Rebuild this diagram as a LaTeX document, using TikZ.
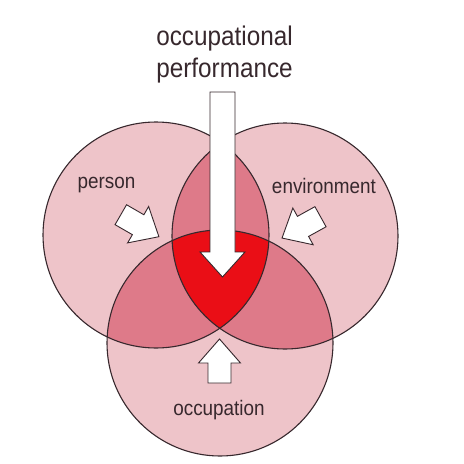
\documentclass[tikz,border=0pt]{standalone}
\usepackage{fontspec}
\setmainfont{Liberation Sans}[FakeStretch=0.9]

\definecolor{pinkone}{RGB}{238,196,201}
\definecolor{pinktwo}{RGB}{222,122,137}
\definecolor{pinkthree}{RGB}{234,14,22}
\definecolor{inkline}{RGB}{55,40,45}

\tikzset{
	venn/.style={draw=inkline, line width=1.1pt},
	arrowbox/.style={fill=white, draw=inkline, line width=0.9pt, line join=miter},
	label/.style={anchor=base, inner sep=0pt, text=inkline, font=\fontsize{21}{24}\selectfont},
	title/.style={anchor=base, inner sep=0pt, text=inkline, font=\fontsize{27}{30}\selectfont},
	inarrow/.pic={
		\path[arrowbox] (0,-11.5) -- (20,-11.5) -- (20,-21) -- (44,0) -- (20,21) -- (20,11.5) -- (0,11.5) -- cycle;
	}
}

\begin{document}
\begin{tikzpicture}[x=1pt, y=-1pt]
		
		\useasboundingbox (0,0) rectangle (464,464);
		
		%Circle centres
		\coordinate (Cperson) at (156,235);
		\coordinate (Cenvironment) at (285,236);
		\coordinate (Coccupation) at (220,343);
		
		%Single areas
		\fill[pinkone] (Cperson) circle[radius=113pt];
		\fill[pinkone] (Cenvironment) circle[radius=113pt];
		\fill[pinkone] (Coccupation) circle[radius=113pt];
		
		%Overlaps of two
		\begin{scope}
			\clip (Cperson) circle[radius=113pt];
			\fill[pinktwo] (Cenvironment) circle[radius=113pt];
			\fill[pinktwo] (Coccupation) circle[radius=113pt];
		\end{scope}
		\begin{scope}
			\clip (Cenvironment) circle[radius=113pt];
			\fill[pinktwo] (Coccupation) circle[radius=113pt];
		\end{scope}
		
		%Overlap of all three
		\begin{scope}
			\clip (Cperson) circle[radius=113pt];
			\clip (Cenvironment) circle[radius=113pt];
			\fill[pinkthree] (Coccupation) circle[radius=113pt];
		\end{scope}
		
		%Outlines
		\draw[venn] (Cperson) circle[radius=113pt];
		\draw[venn] (Cenvironment) circle[radius=113pt];
		\draw[venn] (Coccupation) circle[radius=113pt];
		
		%Labels
		\node[label] (person) at (106.5,188) {person};
		\node[label] (environment) at (324,193) {environment};
		\node[label] (occupation) at (219,415) {occupation};
		
		\node[title] (titleone) at (224.5,45) {occupational};
		\node[title] (titletwo) at (224.5,77) {performance};
		
		%Small arrows pointing inwards
		\pic[rotate=-30] at (120.8,214.7) {inarrow};
		\pic[rotate=-151] at (320.5,216.7) {inarrow};
		\pic[rotate=90] at (219.5,383) {inarrow};
		
		%Big arrow
		\path[arrowbox] (210,92) -- (235,92) -- (235,252) -- (245,252) -- (222.5,277) 
		-- (200,252) -- (210,252) -- cycle;
		
\end{tikzpicture}
\end{document}
